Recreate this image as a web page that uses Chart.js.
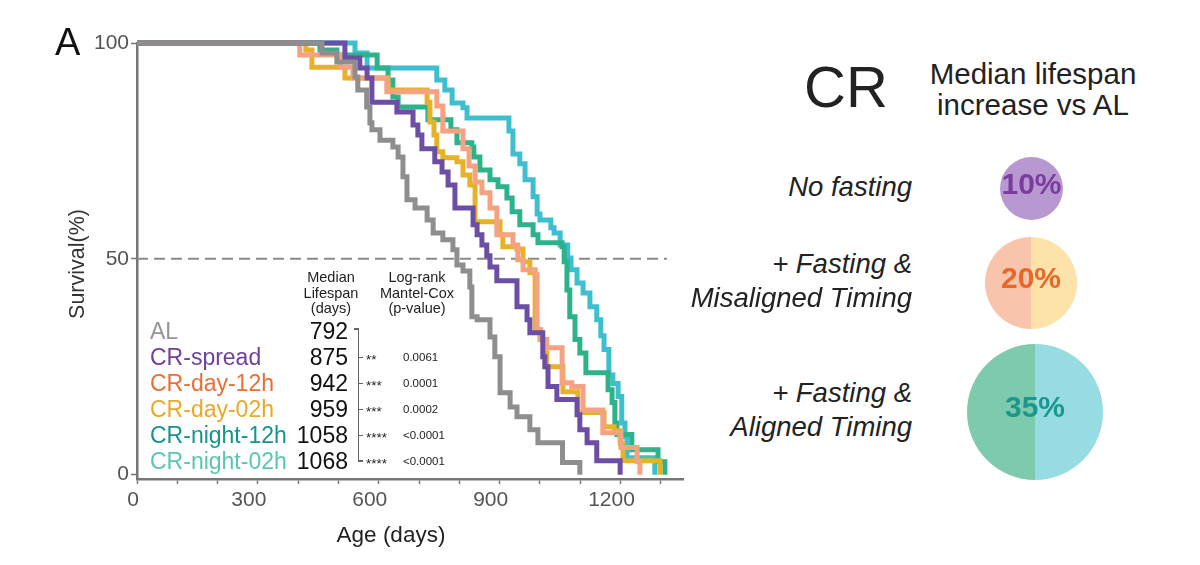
<!DOCTYPE html>
<html><head><meta charset="utf-8">
<script src="https://cdn.jsdelivr.net/npm/chart.js@4.4.1/dist/chart.umd.min.js"></script>
<style>
html,body{margin:0;padding:0;background:#fff;}
#wrap{position:relative;width:1200px;height:565px;overflow:hidden;font-family:"Liberation Sans",Arial,Helvetica,sans-serif;color:#222;background:#fff;}
.t{position:absolute;white-space:pre;line-height:1;}
canvas{position:absolute;}
</style></head><body><div id="wrap"><canvas id="km" width="700" height="565" style="left:0;top:0"></canvas></div>
<script>
// ---------------- DATA ----------------
const groups = ['AL', 'CR-spread', 'CR-day-12h', 'CR-day-02h', 'CR-night-12h', 'CR-night-02h'];
const medianLifespan = [792, 875, 942, 959, 1058, 1068];
const pStars = ['', '**', '***', '***', '****', '****'];
const pValues = ['', '0.0061', '0.0001', '0.0002', '<0.0001', '<0.0001'];

const alDays = [0, 459, 496, 541, 548, 570, 578, 583, 603, 635, 648, 660, 670, 690, 720, 735, 759, 784, 794, 809, 826, 831, 844, 876, 888, 901, 926, 943, 975, 995, 1056, 1099];
const alSurv = [100, 97.7, 95.6, 92.1, 89.1, 85.2, 81.5, 79.9, 77.5, 75.9, 73.6, 69.0, 63.7, 61.8, 59.0, 56.0, 54.4, 52.1, 48.6, 47.2, 43.5, 36.6, 35.9, 31.9, 27.3, 19.0, 15.7, 13.4, 10.4, 7.4, 2.8, 0];

const spreadDays = [0, 516, 553, 571, 583, 645, 685, 697, 707, 739, 757, 772, 789, 834, 844, 856, 868, 876, 893, 943, 968, 975, 1007, 1012, 1020, 1042, 1092, 1099, 1117, 1141, 1199];
const spreadSurv = [100, 96.5, 94.2, 91.9, 86.3, 84.0, 81.0, 78.7, 75.5, 72.5, 70.1, 67.1, 61.8, 57.9, 55.6, 53.2, 50.7, 48.1, 44.9, 38.9, 35.9, 32.9, 27.3, 25.0, 20.4, 17.4, 13.9, 10.4, 7.4, 3.2, 0];

const day12Days = [0, 404, 504, 536, 620, 744, 759, 809, 824, 839, 856, 876, 893, 933, 945, 958, 988, 993, 1002, 1017, 1055, 1079, 1107, 1156, 1201, 1241, 1248];
const day12Surv = [100, 97.2, 94.4, 91.9, 88.7, 85.4, 79.6, 75.5, 71.5, 67.8, 65.3, 61.8, 55.6, 53.2, 49.8, 47.5, 46.3, 33.6, 31.3, 29.4, 21.3, 20.4, 15.0, 9.7, 6.3, 3.0, 0];

const day02Days = [0, 419, 434, 516, 623, 720, 727, 737, 744, 759, 794, 809, 826, 839, 901, 908, 943, 958, 975, 988, 1000, 1012, 1017, 1057, 1094, 1159, 1184, 1199, 1206, 1298];
const day02Surv = [100, 98.4, 94.4, 91.9, 89.1, 86.3, 81.7, 78.7, 74.8, 73.4, 72.5, 69.4, 67.1, 58.6, 55.6, 52.8, 52.3, 49.3, 46.8, 33.6, 31.3, 28.2, 25.0, 19.2, 14.4, 11.1, 10.2, 7.2, 3.2, 0];

const night12Days = [0, 454, 496, 596, 623, 635, 648, 722, 779, 794, 831, 836, 851, 876, 896, 918, 931, 950, 983, 995, 1055, 1060, 1067, 1074, 1087, 1099, 1114, 1169, 1179, 1186, 1191, 1228, 1293, 1310];
const night12Surv = [100, 98.4, 97.2, 94.2, 91.4, 87.5, 85.2, 82.2, 79.9, 76.9, 75.9, 73.6, 70.6, 68.3, 66.7, 64.1, 60.9, 57.9, 55.6, 53.7, 52.8, 49.3, 42.8, 36.6, 31.3, 28.2, 23.6, 19.7, 16.7, 12.0, 9.3, 5.8, 3.0, 0];

const night02Days = [0, 541, 571, 744, 764, 782, 809, 819, 923, 933, 950, 963, 983, 993, 1000, 1027, 1035, 1050, 1069, 1077, 1092, 1107, 1124, 1141, 1151, 1159, 1171, 1181, 1194, 1203, 1211, 1216, 1285];
const night02Surv = [100, 97.7, 94.2, 91.4, 89.1, 86.1, 85.0, 82.6, 79.6, 74.3, 72.0, 68.3, 64.4, 60.4, 59.0, 57.2, 56.0, 53.2, 50.2, 47.5, 44.4, 42.1, 38.9, 35.9, 32.2, 29.0, 23.1, 21.1, 18.1, 12.0, 8.8, 3.9, 0];

const xTickValues = [0, 100, 200, 300, 400, 500, 600, 700, 800, 900, 1000, 1100, 1200, 1300];
const xTickLabels = [0, 300, 600, 900, 1200];
const yTickValues = [0, 50, 100];
const refLevel = 50;
const refLineEnd = 1315;

const bubbleLabels = ['No fasting', '+ Fasting &\nMisaligned Timing', '+ Fasting &\nAligned Timing'];
const bubbleIncrease = [10, 20, 35];
const bubbleGroups = [['CR-spread'], ['CR-day-12h', 'CR-day-02h'], ['CR-night-12h', 'CR-night-02h']];

// ---------------- STYLE ----------------
const FONT = '"Liberation Sans", Arial, Helvetica, sans-serif';
const lineColors = ['#8e8e8e', '#6c4ea4', '#f5a282', '#e6b328', '#2db38b', '#3ebfd0'];
const textColors = ['#959595', '#6f3f9f', '#eb6e36', '#e8a92a', '#17948d', '#5ac6b4'];
const bubbleFill = {'CR-spread': '#b798d1', 'CR-day-12h': '#f9c4ac', 'CR-day-02h': '#fde2aa', 'CR-night-12h': '#7dcbac', 'CR-night-02h': '#96dce2'};
const bubbleTextColor = ['#7b3c9e', '#e7682b', '#1b978f'];
const bubbleLayout = [{cx: 1031.7, cy: 188.3, r: 31.7}, {cx: 1031, cy: 282.5, r: 45.8}, {cx: 1034.5, cy: 411.7, r: 68}];
const xLabelShift = v => (v === 0 ? -4 : -9);

const series = [
  [alDays, alSurv], [spreadDays, spreadSurv], [day12Days, day12Surv],
  [day02Days, day02Surv], [night12Days, night12Surv], [night02Days, night02Surv]
];

const datasets = series.map((s, i) => ({
  label: groups[i],
  data: s[0].map((d, k) => ({x: d, y: s[1][k]})),
  borderColor: lineColors[i],
  borderWidth: 5,
  stepped: 'before',
  pointRadius: 0,
  fill: false,
  borderCapStyle: 'butt',
  borderJoinStyle: 'miter',
  clip: false
}));
datasets.push({
  label: 'median',
  data: [{x: 0, y: refLevel}, {x: refLineEnd, y: refLevel}],
  borderColor: '#8a8a8a',
  borderWidth: 2,
  borderDash: [11, 6],
  pointRadius: 0,
  fill: false,
  clip: false
});

const xLabelPlugin = {
  id: 'xlabels',
  afterDraw(chart) {
    const {ctx, chartArea} = chart;
    const sx = chart.scales.x;
    ctx.save();
    ctx.font = '21px ' + FONT;
    ctx.fillStyle = '#555';
    ctx.textAlign = 'center';
    ctx.textBaseline = 'middle';
    xTickLabels.forEach(v => ctx.fillText(String(v), sx.getPixelForValue(v) + xLabelShift(v), chartArea.bottom + 21));
    ctx.restore();
  }
};

new Chart(document.getElementById('km'), {
  type: 'line',
  data: {datasets},
  options: {
    responsive: false, animation: false, devicePixelRatio: 1, events: [],
    layout: {padding: {left: 0, top: 43, right: 17, bottom: 0}},
    plugins: {legend: {display: false}, tooltip: {enabled: false}, title: {display: false}},
    scales: {
      x: {
        type: 'linear', min: 0, max: 1355,
        afterFit: s => { s.height = 86; },
        afterBuildTicks: a => { a.ticks = xTickValues.map(v => ({value: v})); },
        ticks: {callback: () => '', autoSkip: false, maxRotation: 0},
        grid: {drawOnChartArea: false, drawTicks: true, tickLength: 5, tickColor: '#777', tickWidth: 1.5},
        border: {display: true, color: '#777', width: 2.5}
      },
      y: {
        type: 'linear', min: -1, max: 100,
        afterFit: s => { s.width = 137; },
        afterBuildTicks: a => { a.ticks = yTickValues.map(v => ({value: v})); },
        ticks: {color: '#555', font: {size: 21, family: FONT}, padding: 2, autoSkip: false, callback: v => String(v)},
        grid: {drawOnChartArea: false, drawTicks: true, tickLength: 6, tickColor: '#777', tickWidth: 1.5},
        border: {display: true, color: '#777', width: 2.5}
      }
    }
  },
  plugins: [xLabelPlugin]
});

// ---------------- TEXT ----------------
const wrap = document.getElementById('wrap');
function txt(content, x, y, anchor, css, extra) {
  const d = document.createElement('div');
  d.className = 't';
  d.textContent = content;
  d.style.left = x + 'px';
  d.style.top = y + 'px';
  const tx = anchor === 'center' ? '-50%' : anchor === 'right' ? '-100%' : '0';
  d.style.transform = `translate(${tx},-50%)` + (extra || '');
  Object.assign(d.style, css || {});
  wrap.appendChild(d);
  return d;
}
function box(x, y, w, h, color) {
  const d = document.createElement('div');
  Object.assign(d.style, {position: 'absolute', left: x + 'px', top: y + 'px', width: w + 'px', height: h + 'px', background: color});
  wrap.appendChild(d);
}

txt('A', 55, 41.5, 'left', {fontSize: '38px', color: '#111'});
txt('Survival(%)', 78, 264, 'center', {fontSize: '21.5px', color: '#333'}, ' rotate(-90deg)');
txt('Age (days)', 391, 535, 'center', {fontSize: '22.5px', color: '#222'});

// table headers
txt('Median\nLifespan\n(days)', 331, 293, 'center', {fontSize: '14.5px', lineHeight: '15.5px', textAlign: 'center', color: '#222'});
txt('Log-rank\nMantel-Cox\n(p-value)', 417, 293, 'center', {fontSize: '14.5px', lineHeight: '15.5px', textAlign: 'center', color: '#222'});

const rowY = i => 331 + 25.95 * i;
groups.forEach((g, i) => {
  const y = rowY(i);
  txt(g, 150, y, 'left', {fontSize: '23px', color: textColors[i]});
  txt(String(medianLifespan[i]), 348, y, 'right', {fontSize: '23px', color: '#111'});
  if (pStars[i]) txt(pStars[i], 366, y + 3, 'left', {fontSize: '13.5px', color: '#222'});
  if (pValues[i]) txt(pValues[i], 403, y + 1, 'left', {fontSize: '11.5px', color: '#222'});
});
// bracket
const bc = '#666';
box(357.5, rowY(0) - 3, 1.5, rowY(5) - rowY(0) + 3, bc);
box(354, rowY(0) - 3, 5, 1.5, bc);
for (let i = 1; i < 5; i++) box(357.5, rowY(i), 5, 1.5, bc);
box(357.5, rowY(5) - 0.5, 5, 1.5, bc);

// right panel
txt('CR', 846, 87, 'center', {fontSize: '58px', color: '#222'});
txt('Median lifespan\nincrease vs AL', 1033, 88.5, 'center', {fontSize: '29.5px', lineHeight: '31px', textAlign: 'center', color: '#222'});
const labelLines = [[187], [263.5, 297.5], [393, 426.7]];
bubbleLabels.forEach((lab, i) => {
  lab.split('\n').forEach((line, k) => {
    txt(line, 912, labelLines[i][k], 'right', {fontSize: '27.5px', fontStyle: 'italic', color: '#222'});
  });
});

// bubbles (pie charts, half per group)
bubbleLayout.forEach((b, i) => {
  const c = document.createElement('canvas');
  const size = Math.round(b.r * 2);
  c.width = size; c.height = size;
  c.style.left = (b.cx - size / 2) + 'px';
  c.style.top = (b.cy - size / 2) + 'px';
  wrap.appendChild(c);
  const grp = bubbleGroups[i];
  new Chart(c, {
    type: 'pie',
    data: {labels: grp, datasets: [{data: grp.map(() => 1), backgroundColor: grp.map(g => bubbleFill[g]), borderWidth: 0}]},
    options: {
      responsive: false, animation: false, devicePixelRatio: 1, events: [], rotation: 180,
      layout: {padding: 0},
      plugins: {legend: {display: false}, tooltip: {enabled: false}}
    },
    plugins: [{
      id: 'pct',
      afterDraw(chart) {
        const ctx = chart.ctx;
        const {left, right, top, bottom} = chart.chartArea;
        ctx.save();
        ctx.font = 'bold 30px ' + FONT;
        ctx.fillStyle = bubbleTextColor[i];
        ctx.textAlign = 'center';
        ctx.textBaseline = 'middle';
        ctx.fillText(bubbleIncrease[i] + '%', (left + right) / 2, (top + bottom) / 2 - 3);
        ctx.restore();
      }
    }]
  });
});
</script></body></html>
